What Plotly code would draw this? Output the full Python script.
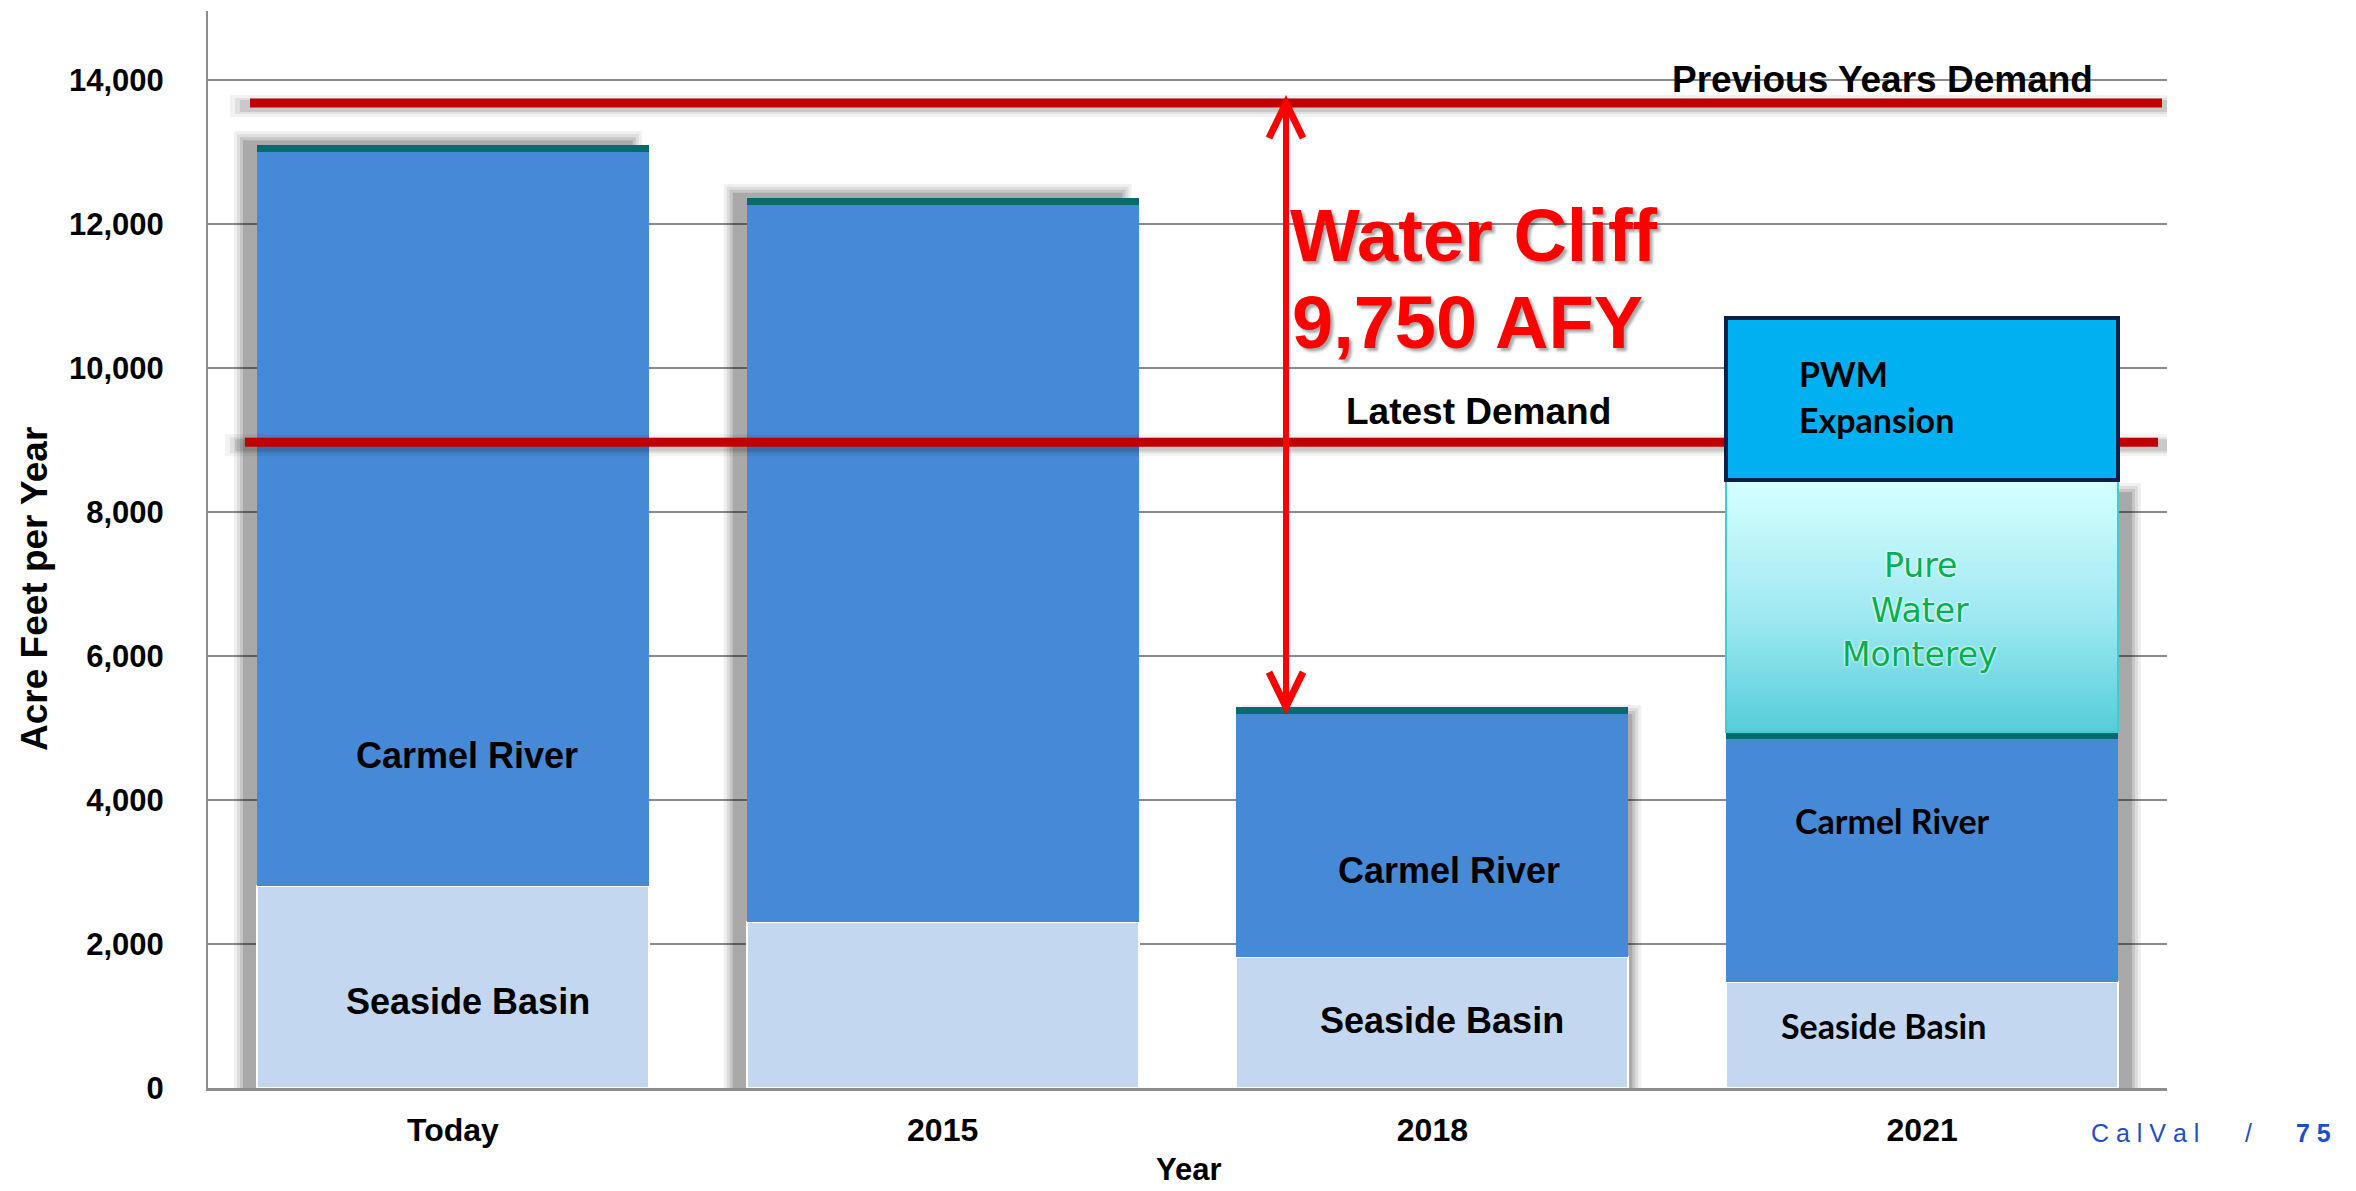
import numpy as np
import plotly.graph_objects as go

# ---- water supply by source, acre-feet per year ----
categories = ["Today", "2015", "2018", "2021"]
seaside_basin = [2800, 2300, 1820, 1474]
carmel_river = [10200, 9970, 3376, 3376]
sand_city_desal = [94, 94, 94, 94]
pure_water_monterey = [None, None, None, 3500]
pwm_expansion = [None, None, None, 2250]

previous_years_demand = 13680
latest_demand = 8970
water_cliff_label = "9,750 AFY"

y_tick_values = [0, 2000, 4000, 6000, 8000, 10000, 12000, 14000]

# ---- page geometry ----
FIG_W, FIG_H = 2356, 1191
MARGIN = dict(l=208, r=189, t=11, b=103)
PLOT_W = FIG_W - MARGIN["l"] - MARGIN["r"]
PLOT_H = FIG_H - MARGIN["t"] - MARGIN["b"]
X_RANGE = [-0.5, len(categories) - 0.5]
Y_RANGE = [0, 14958]
BAR_W = 0.8

CARMEL_BLUE = "#4689D6"
SEASIDE_BLUE = "#C3D8F0"
DESAL_TEAL = "#086A6C"
DEMAND_RED = "#C00000"
CLIFF_RED = "#FF0000"
BOLD_FONT = "Liberation Sans"
BODY_FONT = "Lato"


def dx(px):
    return px * (X_RANGE[1] - X_RANGE[0]) / PLOT_W


def dy(px):
    return px * (Y_RANGE[1] - Y_RANGE[0]) / PLOT_H


def px_x(px):
    return X_RANGE[0] + dx(px - MARGIN["l"])


def paper_x(px):
    return (px - MARGIN["l"]) / PLOT_W


def paper_y(py):
    return (FIG_H - MARGIN["b"] - py) / PLOT_H


def val(v):
    return 0 if v is None else v


xs = list(range(len(categories)))
series = [seaside_basin, carmel_river, sand_city_desal, pure_water_monterey, pwm_expansion]
totals_below_pwm = [sum(val(s[i]) for s in series[:4]) for i in xs]
totals_desal = [sum(val(s[i]) for s in series[:3]) for i in xs]

fig = go.Figure()

# gradient fill of the Pure Water Monterey block (drawn under the bar outline)
for i in xs:
    if pure_water_monterey[i] is None:
        continue
    base = totals_desal[i]
    top = base + pure_water_monterey[i]
    n = 80
    fig.add_trace(go.Heatmap(
        x=[i - BAR_W / 2, i + BAR_W / 2],
        y=np.linspace(base, top, n + 1),
        z=[[k / (n - 1)] for k in range(n)],
        colorscale=[[0, "rgb(84,206,218)"], [0.45, "rgb(158,232,240)"], [1, "rgb(214,255,255)"]],
        showscale=False, hoverinfo="skip", zmin=0, zmax=1,
    ))

fig.add_trace(go.Bar(x=xs, y=seaside_basin, width=BAR_W, name="Seaside Basin",
                     marker=dict(color=SEASIDE_BLUE, line=dict(color="white", width=2))))
fig.add_trace(go.Bar(x=xs, y=carmel_river, width=BAR_W, name="Carmel River",
                     marker=dict(color=CARMEL_BLUE, line=dict(width=0))))
fig.add_trace(go.Bar(x=xs, y=sand_city_desal, width=BAR_W, name="Sand City Desal",
                     marker=dict(color=DESAL_TEAL, line=dict(width=0))))
fig.add_trace(go.Bar(x=xs, y=pure_water_monterey, width=BAR_W, name="Pure Water Monterey",
                     marker=dict(color="rgba(0,0,0,0)", line=dict(color="#3ACFD3", width=2.5))))
fig.add_trace(go.Bar(x=xs, y=pwm_expansion, width=BAR_W, name="PWM Expansion",
                     marker=dict(color="#00B0F0", line=dict(color="#0B1E4E", width=4))))

shapes = []


def soft_rect(x0, x1, y0, y1, layer="between"):
    for spread, alpha in [(-4, 0.14), (-1, 0.10), (2, 0.08), (5, 0.06)]:
        shapes.append(dict(type="rect", xref="x", yref="y", layer=layer,
                           x0=x0 - dx(spread), x1=x1 + dx(spread),
                           y0=y0, y1=y1 + dy(spread),
                           fillcolor=f"rgba(0,0,0,{alpha})", line=dict(width=0)))


# drop shadows behind the stacks
shadow_offsets = {0: (-18, -12, 9), 1: (-18, -12, 9), 2: (10, 8, -3), 3: (14, 18, -8)}
for i in xs:
    ox0, ox1, oy = shadow_offsets[i]
    top = totals_below_pwm[i]
    soft_rect(i - BAR_W / 2 + dx(ox0), i + BAR_W / 2 + dx(ox1), 0, top + dy(oy))


def split(a, b, cuts):
    """Pieces of [a, b] that stay outside the given x intervals."""
    pieces, start = [], a
    for c0, c1 in cuts:
        if c1 <= start or c0 >= b:
            continue
        if c0 > start:
            pieces.append((start, c0))
        start = max(start, c1)
    if start < b:
        pieces.append((start, b))
    return pieces


def demand_line(y, x0, x1, cuts):
    # soft shadow first, then the red rule, both interrupted by any box in front
    for ext, width, alpha in [(20, 22, 0.05), (15, 16, 0.07), (10, 12, 0.10)]:
        for a, b in split(x0 - dx(ext), x1 + dx(ext), cuts):
            shapes.append(dict(type="line", xref="x", yref="y", layer="above",
                               x0=a, x1=b, y0=y - dy(3), y1=y - dy(3),
                               line=dict(color=f"rgba(0,0,0,{alpha})", width=width)))
    for a, b in split(x0, x1, cuts):
        shapes.append(dict(type="line", xref="x", yref="y", layer="above",
                           x0=a, x1=b, y0=y, y1=y,
                           line=dict(color=DEMAND_RED, width=9)))


def boxes_covering(y):
    cuts = []
    for i in xs:
        if pwm_expansion[i] is not None:
            lo = totals_below_pwm[i]
            if lo <= y <= lo + pwm_expansion[i]:
                cuts.append((i - BAR_W / 2 - dx(2), i + BAR_W / 2 + dx(2)))
    return cuts


demand_line(previous_years_demand, px_x(250), px_x(2162), boxes_covering(previous_years_demand))
demand_line(latest_demand, px_x(245), px_x(2158), boxes_covering(latest_demand))

# double-headed arrow from the previous demand down to the 2018 supply
arrow_x = px_x(1286)
arrow_top = previous_years_demand
arrow_bottom = totals_desal[2]
shapes.append(dict(type="line", xref="x", yref="y", layer="above",
                   x0=arrow_x, x1=arrow_x, y0=arrow_bottom, y1=arrow_top,
                   line=dict(color=CLIFF_RED, width=6)))
hw, hh = dx(17), dy(35)
shapes.append(dict(type="path", xref="x", yref="y", layer="above",
                   path=f"M {arrow_x - hw},{arrow_top - hh} L {arrow_x},{arrow_top} L {arrow_x + hw},{arrow_top - hh}",
                   line=dict(color=CLIFF_RED, width=7)))
shapes.append(dict(type="path", xref="x", yref="y", layer="above",
                   path=f"M {arrow_x - hw},{arrow_bottom + hh} L {arrow_x},{arrow_bottom} L {arrow_x + hw},{arrow_bottom + hh}",
                   line=dict(color=CLIFF_RED, width=7)))

annotations = []


def label(text, px, py, size, family=BOLD_FONT, color="black", weight="bold",
          xanchor="center", angle=0, shadow=None):
    font = dict(family=family, size=size, color=color, weight=weight)
    if shadow:
        font["shadow"] = shadow
    annotations.append(dict(text=text, xref="paper", yref="paper",
                            x=paper_x(px), y=paper_y(py), xanchor=xanchor, yanchor="middle",
                            showarrow=False, font=font, textangle=angle))


# segment labels
label("Carmel River", 467, 756, 36)
label("Seaside Basin", 468, 1001, 36)
label("Carmel River", 1449, 870, 36)
label("Seaside Basin", 1442, 1020, 36)
label("Carmel River", 1892, 820, 34, family=BODY_FONT)
label("Seaside Basin", 1883, 1025, 34, family=BODY_FONT)
label("PWM", 1797, 373, 34, family=BODY_FONT, xanchor="left")
label("Expansion", 1797, 419, 34, family=BODY_FONT, xanchor="left")
glow = "0px 0px 3px #ffffff, 0px 0px 2px #ffffff"
label("Pure", 1920, 565, 33, family="DejaVu Sans", color="#00B050", weight="normal", shadow=glow)
label("Water", 1920, 610, 33, family="DejaVu Sans", color="#00B050", weight="normal", shadow=glow)
label("Monterey", 1920, 655, 33, family="DejaVu Sans", color="#00B050", weight="normal", shadow=glow)

# demand and cliff callouts
label("Previous Years Demand", 1882, 79, 37)
label("Latest Demand", 1478, 411, 37)
cliff_shadow = "3px 3px 3px rgba(0,0,0,0.35)"
label("Water Cliff", 1288, 235, 74, color=CLIFF_RED, xanchor="left", shadow=cliff_shadow)
label(water_cliff_label, 1290, 323, 74, color=CLIFF_RED, xanchor="left", shadow=cliff_shadow)

# axis titles
label("Acre Feet per Year", 34, 589, 37, angle=-90)
label("Year", 1189, 1170, 31)

# footer
label("C a l V a l", 2145, 1133, 25, family="Liberation Sans", color="#1F4FC4", weight="normal")
label("/", 2248, 1133, 25, family="Liberation Sans", color="#1F4FC4", weight="normal")
label("7 5", 2313, 1133, 25, family="Liberation Sans", color="#1F4FC4", weight="bold")

fig.update_layout(
    width=FIG_W, height=FIG_H,
    margin=MARGIN,
    barmode="stack",
    showlegend=False,
    hovermode=False,
    paper_bgcolor="white",
    plot_bgcolor="white",
    shapes=shapes,
    annotations=annotations,
    xaxis=dict(
        range=X_RANGE, tickmode="array", tickvals=xs, ticktext=categories,
        showgrid=False, zeroline=False, showline=True, linecolor="#8C8C8C", linewidth=3,
        ticks="", ticklabelstandoff=12,
        tickfont=dict(family=BOLD_FONT, size=32, color="black", weight="bold"),
    ),
    yaxis=dict(
        range=Y_RANGE, tickmode="array", tickvals=y_tick_values, tickformat=",",
        showgrid=True, gridcolor="#8C8C8C", gridwidth=2, zeroline=False,
        showline=True, linecolor="#8C8C8C", linewidth=2,
        ticks="", ticklabelstandoff=36,
        tickfont=dict(family=BOLD_FONT, size=31, color="black", weight="bold"),
    ),
)

fig.write_html("out.html")
